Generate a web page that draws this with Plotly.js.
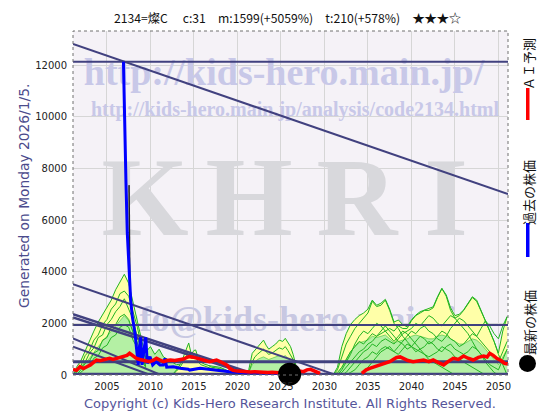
<!DOCTYPE html>
<html><head><meta charset="utf-8">
<script src="https://cdn.plot.ly/plotly-3.0.1.min.js"></script>
<style>html,body{margin:0;padding:0;background:#fff}</style>
</head><body>
<div id="chart" style="width:560px;height:420px"></div>
<script>
// ---------- DATA ----------
const titleText = "2134=燦C　 c:31　m:1599(+5059%)　t:210(+578%)　★★★☆";
const xTicks = [2005,2010,2015,2020,2025,2030,2035,2040,2045,2050];
const yTicks = [0,2000,4000,6000,8000,10000,12000];

// past price (blue)
const priceX = [2006.9,2007.08,2007.19,2007.34,2007.57,2007.73,2007.92,2008.05,2008.23,2008.42,2008.6,2008.7,2008.88,2009.03,2009.26,2009.46,2009.64,2009.95,2010.26,2010.64,2011.1,2011.48,2011.67,2011.87,2012.63,2013.4,2014.35,2014.5,2015.7,2017.2,2019.1,2021.06,2023.0,2024.9,2026.0];
const priceY = [12130,8710,7430,5500,3800,2900,2260,2000,1610,970,390,970,1460,390,970,1460,450,710,390,515,390,390,645,300,320,260,220,190,260,190,130,90,80,70,31];
// daily high wick (dark)
const wickX = [2007.54,2007.65];
const wickY = [7350,3100];

// AI prediction (red)
const aiX = [2001.1,2001.5,2001.9,2002.3,2002.7,2003.1,2003.5,2003.8,2004.2,2004.6,2005.0,2005.3,2005.7,2006.1,2006.5,2006.9,2007.3,2007.6,2008.0,2008.4,2008.8,2009.2,2009.6,2009.9,2010.3,2010.7,2011.1,2011.5,2011.9,2012.3,2012.8,2013.4,2013.8,2014.2,2014.5,2014.9,2015.3,2015.7,2016.1,2016.5,2016.8,2017.2,2017.6,2018.0,2018.4,2018.8,2019.1,2019.5,2020.0,2020.5,2021.0,2021.5,2022.0,2022.5,2023.0,2023.5,2024.0,2024.5,2025.0,2025.5,2026.0,2026.5,2027.0,2027.6,2028.0,2028.4,2028.8,2029.1,2029.5,
  2031.5,
  2034.3,2034.8,2035.2,2035.8,2036.4,2037.0,2037.5,2038.0,2038.3,2038.7,2039.1,2039.6,2040.2,2040.8,2041.4,2042.0,2042.5,2043.1,2043.7,2044.2,2044.8,2045.4,2046.0,2046.5,2047.1,2047.7,2048.3,2048.7,2049.0,2049.4,2049.8,2050.3,2050.7,2051.1];
const aiY = [220,180,320,250,320,390,500,580,550,580,620,645,600,645,680,710,760,840,735,645,600,580,540,515,560,645,580,515,560,580,560,580,620,680,710,690,645,600,580,540,515,550,580,520,450,380,260,180,150,130,140,120,130,110,120,100,110,100,90,80,60,100,160,130,200,220,170,130,60,
  null,
  60,200,260,330,390,450,515,620,680,700,645,560,515,560,580,520,580,480,390,520,645,600,735,650,580,680,735,700,840,760,645,560,450,420];

// latest price (black dot)
const latestX = [2026.0];
const latestY = [31];

// horizontal levels
const levelValues = [12130,1935,515,31];
const levelWidths = [2,2,3,3];

// trend lines
const trendX0 = [2001.1,2001.1,2001.1,2001.1,2001.1,2001.1];
const trendY0 = [12813,3520,2350,2230,1420,1100];
const trendX1 = [2051.1,2031.3,2022.3,2021.6,2011.2,2010.0];
const trendY1 = [7007,0,0,0,0,0];
const trendWidths = [2,2,2.5,2.5,2,2];

// similar-pattern fan: past (2001-2010)
const fanPastX = [2001.2,2001.5,2002.0,2002.5,2003.0,2003.5,2004.0,2004.5,2005.0,2005.5,2006.0,2006.5,2007.0,2007.5,2008.0,2008.5,2009.0,2009.5,2010.0,2010.5];
const fanPastTop = [0,300,550,950,1350,1700,2050,2350,2600,2900,3300,3600,3900,3550,2800,2100,1350,600,200,0];
const fanPastMid = [0,100,250,450,650,900,1100,1300,1500,1700,1900,2100,2300,2100,1700,1200,700,300,50,0];
const fanPastL1 = [0,250,350,750,950,1350,1550,1950,2150,2550,2750,3150,3250,3050,2450,1850,1050,550,100,0];
const fanPastL2 = [0,100,300,500,850,1050,1450,1550,1950,2150,2450,2650,2950,2550,2150,1450,950,350,100,0];
const fanPastL3 = [0,0,200,450,550,850,950,1350,1450,1850,1950,2250,2350,2150,1650,1250,650,350,0,0];
const fanPastL4 = [0,0,100,250,350,650,750,1050,1150,1450,1550,1850,1950,1850,1350,1050,550,250,0,0];

// small fan 2013-2019
const fanAX = [2012.5,2013.0,2013.5,2013.8,2014.1,2014.4,2014.7,2015.0,2015.2,2015.5,2015.8,2016.2,2016.6,2017.0,2017.5,2018.0,2018.5,2019.0,2019.5];
const fanATop = [0,200,450,700,1000,1240,800,950,970,650,500,420,380,300,280,250,200,100,0];
const fanAL1 = [0,150,350,500,700,900,650,700,750,500,400,350,300,250,220,200,150,80,0];

// small fan 2021-2027
const fanBX = [2021.0,2021.3,2021.7,2022.0,2022.3,2022.6,2023.0,2023.3,2023.6,2024.0,2024.4,2024.8,2025.2,2025.5,2025.8,2026.1,2026.4,2026.7,2027.0];
const fanBTop = [0,200,840,950,1100,1200,1350,1150,1000,1100,1200,1350,1300,1420,1250,1100,800,400,0];
const fanBMid = [0,100,400,500,600,650,700,650,600,650,700,750,700,750,650,550,400,200,0];
const fanBL1 = [0,100,500,700,800,900,1000,900,800,850,950,1050,1000,1100,950,800,600,300,0];

// low band 2009-2020
const lowX = [2009.5,2010.0,2010.5,2011.0,2011.5,2012.0,2012.5,2013.0,2014.0,2015.0,2016.0,2017.0,2018.0,2019.0,2020.0];
const lowY = [900,1100,800,1000,700,600,500,400,450,500,400,350,300,150,0];

// similar-pattern fan: future (2031-2051)
const fanFutX = [2031,2031.5,2032,2032.5,2033,2033.5,2034,2034.5,2035,2035.5,2036,2036.5,2037,2037.5,2038,2038.5,2039,2039.5,2040,2040.5,2041,2041.5,2042,2042.5,2043,2043.5,2044,2044.5,2045,2045.5,2046,2046.5,2047,2047.5,2048,2048.5,2049,2049.5,2050,2050.5,2051];
const fanFutTop = [0,300,1100,1600,1950,2150,2300,2400,2550,2900,2700,2780,2930,2550,2050,2130,1950,1870,2130,2320,2450,2520,2600,2640,3030,3350,3100,2600,2300,2350,2520,2780,3030,2900,2520,2150,1700,1300,850,1700,2260];
const fanFutMid = [0,50,300,600,900,1100,1250,1300,1350,1500,1450,1500,1550,1400,1250,1300,1350,1400,1500,1550,1500,1450,1400,1400,1500,1550,1500,1400,1300,1200,1200,1300,1400,1350,1200,1000,800,600,400,700,1000];
const fanFutL1 = [0,200,700,1200,1500,1800,2000,2200,2400,2850,2650,2700,2900,2500,2000,1800,1500,1300,1100,900,1000,800,600,500,400,300,200,100,0];
const fanFutL2 = [0,0,100,300,500,700,900,1000,1200,1300,1500,1600,1700,1800,1700,1900,1800,1800,2100,2300,2400,2500,2500,2600,3000,3350,3050,2500,2200,2000,1800,1600,1300,1000,800,500,300,100,0];
const fanFutL3 = [0,0,0,100,300,500,700,900,1000,1200,1100,1300,1400,1300,1200,1400,1600,1700,1800,2000,1900,2100,2300,2200,2000,1900,2100,2300,2200,2300,2500,2750,3000,2850,2500,2100,1700,1300,800,400,0];
const fanFutL4 = [0,100,300,600,900,1100,1300,1200,1400,1600,1500,1700,1900,1700,1500,1300,1200,1000,1100,1300,1500,1400,1200,1300,1500,1700,1600,1400,1300,1100,1200,1400,1600,1500,1300,1100,900,700,500,900,1300];
const fanFutL5 = [0,0,200,500,800,1200,1500,1700,1600,1800,2000,1900,1700,1500,1300,1500,1700,1600,1400,1200,1000,1100,1300,1200,1000,900,1100,1200,1000,900,800,900,1100,1000,800,600,400,300,200,600,1000];
const fanFutL6 = [0,0,0,0,100,200,400,600,700,900,800,1000,1100,1000,900,1100,1300,1500,1700,1600,1800,1900,1700,1600,1400,1300,1500,1800,2000,2200,2100,1900,1700,1500,1800,2100,1900,1600,1400,1900,2260];
const fanFutL7 = [0,0,0,0,0,0,0,100,300,500,700,900,1000,1100,900,800,1000,1200,1100,1000,900,800,700,800,900,1100,1000,900,700,600,500,400,300,200,100,0];

// legend labels
const legendLabels = ["ＡＩ予測","過去の株価","最新の株価"];

// ---------- STYLE / LAYOUT ----------
const X_RANGE = [2001.1, 2051.1];
const Y_RANGE = [0, 13316];
const NAVY = '#41417f';
const GREEN = '#22b422';
const YELLOW = '#ffffa8';
const LGREEN = '#b4f0a4';
const WM = 'rgb(200,200,232)';

const PL = 73, PR = 508, PT = 31, PB = 375;
const W = PR-PL, H = PB-PT;
const fx = p => (p-PL)/W, fy = p => (PB-p)/H;
function px2x(f){ return X_RANGE[0] + f*(X_RANGE[1]-X_RANGE[0]); }
function px2y(f){ return Y_RANGE[0] + f*(Y_RANGE[1]-Y_RANGE[0]); }

const traces = [];
// watermark texts (drawn below the data)
function wm(text, pxX, pxY, size, color){
  traces.push({x:[px2x(fx(pxX))], y:[px2y(fy(pxY))], mode:'text', text:[text], textposition:'middle center',
    textfont:{family:'Liberation Serif', size:size, color:color}, hoverinfo:'skip', showlegend:false, cliponaxis:false});
}
wm('<b>http://kids-hero.main.jp/</b>', 284, 75, 38, WM);
wm('<b>http://kids-hero.main.jp/analysis/code2134.html</b>', 295, 111, 20, WM);
const KHRI_letters = ['K','H','R','I'];
const KHRI_px = [145, 249, 357, 446];
KHRI_letters.forEach((c,i) => wm('<b>'+c+'</b>', KHRI_px[i], 207, 112, 'rgb(216,216,220)'));
wm('<b>info@kids-hero.main.jp</b>', 293, 322, 36, 'rgb(200,200,226)');

function fillTrace(x, y, color, lineW){
  traces.push({x:x, y:y, mode:'lines', fill:'tozeroy', fillcolor:color,
    line:{color:GREEN, width:lineW}, hoverinfo:'skip', showlegend:false});
}
function gLine(x, y){
  traces.push({x:x, y:y, mode:'lines', line:{color:GREEN, width:1}, hoverinfo:'skip', showlegend:false});
}
fillTrace(fanPastX, fanPastTop, YELLOW, 1);
fillTrace(fanPastX, fanPastMid, LGREEN, 0.5);
[fanPastL1, fanPastL2, fanPastL3, fanPastL4].forEach(l => gLine(fanPastX, l));
fillTrace(lowX, lowY, LGREEN, 1);
fillTrace(fanAX, fanATop, YELLOW, 1);
gLine(fanAX, fanAL1);
fillTrace(fanBX, fanBTop, YELLOW, 1);
fillTrace(fanBX, fanBMid, LGREEN, 0.5);
gLine(fanBX, fanBL1);
fillTrace(fanFutX, fanFutTop, YELLOW, 1);
fillTrace(fanFutX, fanFutMid, LGREEN, 0.5);
[fanFutL1, fanFutL2, fanFutL3, fanFutL4, fanFutL5, fanFutL6, fanFutL7].forEach(l => gLine(fanFutX, l));

// horizontal levels
levelValues.forEach((v,i) => traces.push({x:X_RANGE, y:[v,v], mode:'lines', line:{color:NAVY, width:levelWidths[i]}, hoverinfo:'skip', showlegend:false}));
// trend lines
trendX0.forEach((x0,i) => traces.push({x:[x0, trendX1[i]], y:[trendY0[i], trendY1[i]], mode:'lines', line:{color:NAVY, width:trendWidths[i]}, hoverinfo:'skip', showlegend:false}));

// price
traces.push({x:wickX, y:wickY, mode:'lines', line:{color:'#222', width:1.5}, hoverinfo:'skip', showlegend:false});
traces.push({x:priceX, y:priceY, mode:'lines', line:{color:'#0000ff', width:3}, showlegend:false});
traces.push({x:aiX, y:aiY, mode:'lines', line:{color:'#ff0000', width:3.5}, connectgaps:false, showlegend:false});
traces.push({x:latestX, y:latestY, mode:'markers', marker:{color:'#000', size:23}, cliponaxis:false, showlegend:false});

const layout = {
  width:560, height:420,
  margin:{l:PL, r:560-PR, t:PT, b:420-PB},
  paper_bgcolor:'#ffffff', plot_bgcolor:'#f5f2f7',
  showlegend:false,
  xaxis:{range:X_RANGE, tickvals:xTicks, ticktext:xTicks.map(String), showgrid:true, gridcolor:'#d6d6d6', gridwidth:1,
    zeroline:false, showline:false, ticks:'outside', ticklen:2, tickcolor:'rgba(0,0,0,0)',
    tickfont:{family:'DejaVu Sans', size:10, color:'#222'}, fixedrange:true},
  yaxis:{range:Y_RANGE, tickvals:yTicks, ticktext:yTicks.map(String), showgrid:true, gridcolor:'#d6d6d6', gridwidth:1,
    zeroline:false, showline:false, ticks:'outside', ticklen:3, tickcolor:'rgba(0,0,0,0)',
    tickfont:{family:'DejaVu Sans', size:10, color:'#222'}, fixedrange:true},
  shapes:[
    {type:'rect', xref:'paper', yref:'paper', x0:0, x1:1, y0:0, y1:1, line:{color:'#707070', width:1, dash:'dot'}, layer:'above'},
    {type:'rect', xref:'paper', yref:'paper', x0:fx(526), x1:fx(529.5), y0:fy(120), y1:fy(88), fillcolor:'#ff0000', line:{width:0}},
    {type:'rect', xref:'paper', yref:'paper', x0:fx(526), x1:fx(529.5), y0:fy(257), y1:fy(223), fillcolor:'#0000ff', line:{width:0}},
    {type:'circle', xref:'paper', yref:'paper', x0:fx(519), x1:fx(536), y0:fy(372), y1:fy(355), fillcolor:'#000', line:{width:0}}
  ],
  annotations:[
    {text:titleText, xref:'paper', yref:'paper', x:fx(287), y:fy(18), showarrow:false, xanchor:'center', yanchor:'middle',
      font:{family:'Noto Sans CJK JP', size:12.2, color:'#111'}},
    {text:'Generated on Monday 2026/1/5.', xref:'paper', yref:'paper', x:fx(24), y:fy(196), showarrow:false, textangle:-90,
      xanchor:'center', yanchor:'middle', font:{family:'DejaVu Sans', size:13.8, color:'#4b4b8c'}},
    {text:'Copyright (c) Kids-Hero Research Institute. All Rights Reserved.', xref:'paper', yref:'paper', x:fx(290), y:fy(403),
      showarrow:false, xanchor:'center', yanchor:'middle', font:{family:'DejaVu Sans', size:13, color:'#55559a'}},
    {text:legendLabels[0], xref:'paper', yref:'paper', x:fx(529), y:fy(64), showarrow:false, textangle:-90, xanchor:'center', yanchor:'middle',
      font:{family:'Noto Sans CJK JP', size:13, color:'#111'}},
    {text:legendLabels[1], xref:'paper', yref:'paper', x:fx(529), y:fy(193), showarrow:false, textangle:-90, xanchor:'center', yanchor:'middle',
      font:{family:'Noto Sans CJK JP', size:13, color:'#111'}},
    {text:legendLabels[2], xref:'paper', yref:'paper', x:fx(529), y:fy(323), showarrow:false, textangle:-90, xanchor:'center', yanchor:'middle',
      font:{family:'Noto Sans CJK JP', size:13, color:'#111'}}
  ]
};

Plotly.newPlot('chart', traces, layout, {staticPlot:true, displayModeBar:false});
</script>
</body></html>
